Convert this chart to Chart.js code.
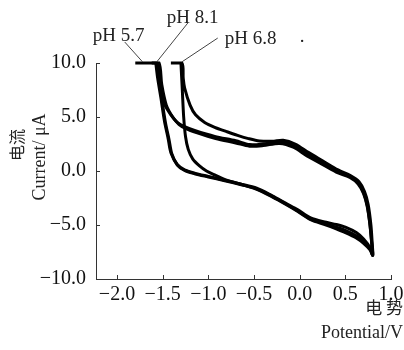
<!DOCTYPE html>
<html><head><meta charset="utf-8">
<script src="https://cdn.jsdelivr.net/npm/chart.js@4.4.0/dist/chart.umd.min.js"></script>
<style>html,body{margin:0;padding:0;background:#fff;}#wrap{width:404px;height:350px;position:relative;}</style>
</head><body><div id="wrap"><canvas id="c" width="404" height="350"></canvas></div>
<script>
const xTicks = [-2.0, -1.5, -1.0, -0.5, 0.0, 0.5, 1.0];
const yTicks = [-10, -5, 0, 5, 10];
const seriesNames = ['pH 5.7', 'pH 8.1', 'pH 6.8'];

const ph57Potential = [-1.80, -1.56, -1.53, -1.48, -1.41, -1.34, -1.26, -1.15, -0.93, -0.70, -0.55, -0.40, -0.22, -0.07, 0.08, 0.22, 0.40, 0.55, 0.64, 0.70, 0.74, 0.77, 0.79, 0.80, 0.77, 0.70, 0.62, 0.50, 0.40, 0.29, 0.12, -0.02, -0.15, -0.30, -0.47, -0.65, -0.82, -1.00, -1.15, -1.26, -1.34, -1.41, -1.44, -1.48, -1.52, -1.555, -1.575];
const ph57Current   = [10, 10, 8.0, 6.2, 5.2, 4.5, 4.1, 3.75, 3.2, 2.8, 2.45, 2.5, 2.7, 2.35, 1.6, 0.9, 0.0, -0.5, -1.1, -2.0, -3.2, -5.0, -6.8, -7.8, -7.1, -6.3, -5.7, -5.2, -4.95, -4.75, -4.35, -3.6, -3.0, -2.3, -1.6, -1.2, -0.85, -0.5, -0.2, 0.1, 0.6, 1.7, 3.0, 4.6, 6.8, 8.6, 10];

const ph81Potential = [-1.62, -1.54, -1.51, -1.46, -1.39, -1.32, -1.24, -1.13, -0.92, -0.70, -0.55, -0.40, -0.22, -0.07, 0.08, 0.22, 0.40, 0.55, 0.64, 0.70, 0.74, 0.77, 0.79, 0.80, 0.77, 0.70, 0.62, 0.50, 0.40, 0.29, 0.12, -0.02, -0.15, -0.30, -0.47, -0.65, -0.82, -1.00, -1.15, -1.26, -1.34, -1.40, -1.43, -1.47, -1.51, -1.54, -1.56];
const ph81Current   = [10, 10, 8.0, 6.1, 5.0, 4.3, 3.9, 3.55, 3.0, 2.6, 2.3, 2.35, 2.55, 2.2, 1.4, 0.75, -0.1, -0.6, -1.2, -2.1, -3.3, -5.0, -6.8, -7.8, -7.2, -6.5, -6.0, -5.5, -5.2, -4.9, -4.45, -3.7, -3.05, -2.35, -1.65, -1.25, -0.9, -0.55, -0.25, 0.05, 0.55, 1.6, 2.9, 4.5, 6.7, 8.6, 10];

const ph68Potential = [-1.41, -1.29, -1.275, -1.26, -1.20, -1.14, -1.04, -0.93, -0.80, -0.68, -0.56, -0.44, -0.30, -0.18, -0.05, 0.10, 0.25, 0.42, 0.56, 0.65, 0.71, 0.75, 0.78, 0.795, 0.80, 0.77, 0.70, 0.62, 0.50, 0.40, 0.29, 0.12, -0.02, -0.15, -0.30, -0.47, -0.65, -0.80, -0.92, -1.02, -1.10, -1.17, -1.22, -1.25, -1.27, -1.285, -1.30];
const ph68Current   = [10, 10, 8.6, 7.7, 6.1, 5.2, 4.5, 4.05, 3.65, 3.3, 3.0, 2.78, 2.75, 2.85, 2.5, 1.7, 0.95, 0.1, -0.45, -1.0, -1.9, -3.1, -5.0, -6.8, -7.8, -7.3, -6.7, -6.2, -5.7, -5.35, -5.0, -4.5, -3.75, -3.1, -2.4, -1.7, -1.2, -0.85, -0.4, 0.0, 0.5, 1.1, 2.0, 3.2, 5.0, 7.5, 10];

const toPts = (xs, ys) => xs.map((v, i) => ({x: v, y: ys[i]}));
const seriesData = [toPts(ph57Potential, ph57Current), toPts(ph81Potential, ph81Current), toPts(ph68Potential, ph68Current)];

// annotation placement (data coordinates) kept separate from values
const labelAnchors = [
  {text: seriesNames[0], x: -2.265, y: 12.05, lx1: -1.915, ly1: 11.94, lx2: -1.72, ly2: 10.1},
  {text: seriesNames[1], x: -1.456, y: 13.7, lx1: -1.225, ly1: 13.7, lx2: -1.565, ly2: 10.1},
  {text: seriesNames[2], x: -0.821, y: 11.76, lx1: -0.897, ly1: 12.31, lx2: -1.29, ly2: 10.1}
];

const fmt = v => (v < 0 ? '\u2212' : '') + Math.abs(v).toFixed(1);
const SERIF = '"Liberation Serif", "Times New Roman", serif';
const CJK = '"Noto Sans CJK SC", sans-serif';

const decor = {
  id: 'decor',
  afterDraw(chart) {
    const {ctx, chartArea: a, scales: {x, y}} = chart;
    ctx.save();
    ctx.strokeStyle = '#333'; ctx.lineWidth = 1;
    ctx.beginPath();
    yTicks.forEach(v => { const py = Math.round(y.getPixelForValue(v)) + 0.5; ctx.moveTo(a.left, py); ctx.lineTo(a.left + 4, py); });
    xTicks.forEach(v => { const px = Math.round(x.getPixelForValue(v)) + 0.5; ctx.moveTo(px, a.bottom); ctx.lineTo(px, a.bottom - 4); });
    ctx.stroke();
    // leader lines
    ctx.strokeStyle = '#444';
    ctx.beginPath();
    labelAnchors.forEach(l => { ctx.moveTo(x.getPixelForValue(l.lx1), y.getPixelForValue(l.ly1)); ctx.lineTo(x.getPixelForValue(l.lx2), y.getPixelForValue(l.ly2)); });
    ctx.stroke();
    ctx.fillStyle = '#222';
    ctx.font = '19px ' + SERIF;
    ctx.textAlign = 'left'; ctx.textBaseline = 'alphabetic';
    labelAnchors.forEach(l => ctx.fillText(l.text, x.getPixelForValue(l.x), y.getPixelForValue(l.y)));
    ctx.fillText('.', x.getPixelForValue(0.0), y.getPixelForValue(11.9));
    // axis titles
    ctx.textAlign = 'right'; ctx.textBaseline = 'middle';
    ctx.font = '17px ' + CJK;
    ctx.fillText('电 势', a.right + 12, a.bottom + 29);
    ctx.font = '18px ' + SERIF;
    ctx.fillText('Potential/V', a.right + 12, a.bottom + 54);
    ctx.textAlign = 'center';
    ctx.save(); ctx.translate(a.left - 79, a.top + 82); ctx.rotate(-Math.PI / 2);
    ctx.font = '16px ' + CJK; ctx.fillText('电流', 0, 0); ctx.restore();
    ctx.save(); ctx.translate(a.left - 56, a.top + 94); ctx.rotate(-Math.PI / 2);
    ctx.font = '18px ' + SERIF; ctx.fillText('Current/ \u03bcA', 0, 0); ctx.restore();
    ctx.restore();
  }
};

new Chart(document.getElementById('c'), {
  type: 'line',
  data: {
    datasets: seriesData.map((d, i) => ({
      label: seriesNames[i], data: d, borderColor: '#000', backgroundColor: '#000',
      borderWidth: 3, pointRadius: 0, tension: 0.3, fill: false, clip: 6
    }))
  },
  options: {
    responsive: false, animation: false, devicePixelRatio: 1,
    layout: {padding: {left: 0, right: 13, top: 63, bottom: 0}},
    plugins: {legend: {display: false}, tooltip: {enabled: false}},
    scales: {
      x: {
        type: 'linear', min: -2.23, max: 1.0,
        grid: {display: false, drawTicks: false},
        border: {display: true, color: '#333', width: 1},
        afterBuildTicks(s) { s.ticks = xTicks.map(v => ({value: v})); },
        afterFit(s) { s.height = 71; s.paddingLeft = 0; s.paddingRight = 0; },
        ticks: {padding: 4, color: '#111', autoSkip: false, maxRotation: 0, font: {family: SERIF, size: 20}, callback: v => fmt(v)}
      },
      y: {
        type: 'linear', min: -10, max: 10,
        grid: {display: false, drawTicks: false},
        border: {display: true, color: '#333', width: 1},
        afterBuildTicks(s) { s.ticks = yTicks.map(v => ({value: v})); },
        afterFit(s) { s.width = 96; s.paddingTop = 0; s.paddingBottom = 0; },
        ticks: {padding: 10, color: '#111', font: {family: SERIF, size: 20}, callback: v => fmt(v)}
      }
    }
  },
  plugins: [decor]
});
</script></body></html>
